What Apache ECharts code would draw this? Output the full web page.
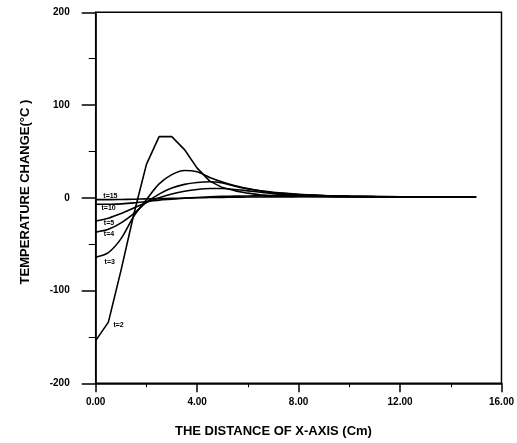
<!DOCTYPE html>
<html><head><meta charset="utf-8">
<script src="https://cdn.jsdelivr.net/npm/echarts@6/dist/echarts.min.js"></script>
<style>html,body{margin:0;padding:0;background:#fff}#c{width:517px;height:443px}</style>
</head><body><div id="c"></div>
<script>
// x positions (cm)
var xs = [0,0.5,1,1.5,2,2.5,3,3.5,4,4.5,5,5.5,6,6.5,7,7.5,8,9,10,11,12,13,14,15];
// temperature change series
var t2  = [-154,-134,-78,-18,36,66,66,52,32,18,11,7.5,5,3.2,2.2,1.7,1.4,1.1,1,0.9,0.8,0.7,0.7,0.6];
var t3  = [-64,-59,-44,-20,-2,15,25,29.5,28,22,17,13,10,7.5,6,4.8,3.8,2.3,1.6,1.2,1,0.9,0.8,0.7];
var t4  = [-37,-34,-27,-17,-5,4,10.5,14.5,16.5,17.3,16,12.5,9.5,7.5,5.5,4.5,3.6,2.4,1.7,1.3,1.1,0.9,0.8,0.7];
var t5  = [-25,-22,-17,-11,-5,0,4,7,9,10,10,9,7.5,6,4.5,3.6,3,2.2,1.6,1.3,1.1,0.9,0.8,0.7];
var t10 = [-7,-7,-6.5,-5.5,-4,-2.5,-1.5,-0.5,0.3,1,1.5,1.8,2,2.2,2.3,2.3,2.2,2,1.7,1.4,1.2,1,0.9,0.8];
var t15 = [-2,-2,-1.8,-1.5,-1.2,-0.9,-0.6,-0.3,0,0.3,0.5,0.7,0.8,0.9,1,1,1.1,1.1,1,1,0.9,0.9,0.8,0.8];
var seriesNames = ['t=2','t=3','t=4','t=5','t=10','t=15'];
var seriesVals = [t2,t3,t4,t5,t10,t15];
// curve label anchors (data coords)
var labelAt = [[0.7,-137],[0.35,-69],[0.32,-39],[0.32,-27],[0.23,-11],[0.3,2]];
var xTicks = ['0.00','4.00','8.00','12.00','16.00'];

var chart = echarts.init(document.getElementById('c'));
var series = seriesVals.map(function(v,i){
  return {
    type:'line', name:seriesNames[i], showSymbol:false, symbol:'none',
    smooth: i===0 ? false : 0.3,
    lineStyle:{color:'#000', width:1.6},
    data: xs.map(function(x,j){return [x,v[j]];}),
    markPoint:{
      symbol:'circle', symbolSize:0, silent:true,
      label:{show:true, position:'right', distance:0, formatter:seriesNames[i],
             color:'#000', fontSize:7, fontWeight:'bold', fontFamily:'Liberation Sans'},
      data:[{coord:labelAt[i]}]
    }
  };
});
chart.setOption({
  animation:false,
  backgroundColor:'#fff',
  grid:{left:95.7, right:10.3, top:12.3, bottom:59.7, show:true, borderColor:'#000', borderWidth:1.5},
  xAxis:{
    type:'value', min:0, max:16, interval:4,
    axisLine:{onZero:false, lineStyle:{color:'#000', width:1.5}},
    axisTick:{show:true, length:9, lineStyle:{color:'#000', width:1.5}},
    minorTick:{show:true, splitNumber:2, length:4, lineStyle:{color:'#000', width:1}},
    splitLine:{show:false},
    axisLabel:{margin:14, color:'#000', fontSize:10, fontWeight:'bold', fontFamily:'Liberation Sans',
      formatter:function(v){return xTicks[Math.round(v/4)];}}
  },
  yAxis:{
    type:'value', min:-200, max:200, interval:100,
    axisLine:{onZero:false, lineStyle:{color:'#000', width:1.5}},
    axisTick:{show:true, length:14, lineStyle:{color:'#000', width:1.5}},
    minorTick:{show:true, splitNumber:2, length:7, lineStyle:{color:'#000', width:1}},
    splitLine:{show:false},
    axisLabel:{margin:26, color:'#000', fontSize:10, fontWeight:'bold', fontFamily:'Liberation Sans'}
  },
  graphic:[
    {type:'text', left:175, top:425, style:{text:'THE DISTANCE OF X-AXIS (Cm)', fill:'#000',
      font:'bold 13px "Liberation Sans"'}},
    {type:'text', x:25, y:192, rotation:Math.PI/2, style:{text:'TEMPERATURE CHANGE(°C )', fill:'#000',
      font:'bold 13px "Liberation Sans"', align:'center', verticalAlign:'middle'}}
  ],
  series:series
});
</script></body></html>
